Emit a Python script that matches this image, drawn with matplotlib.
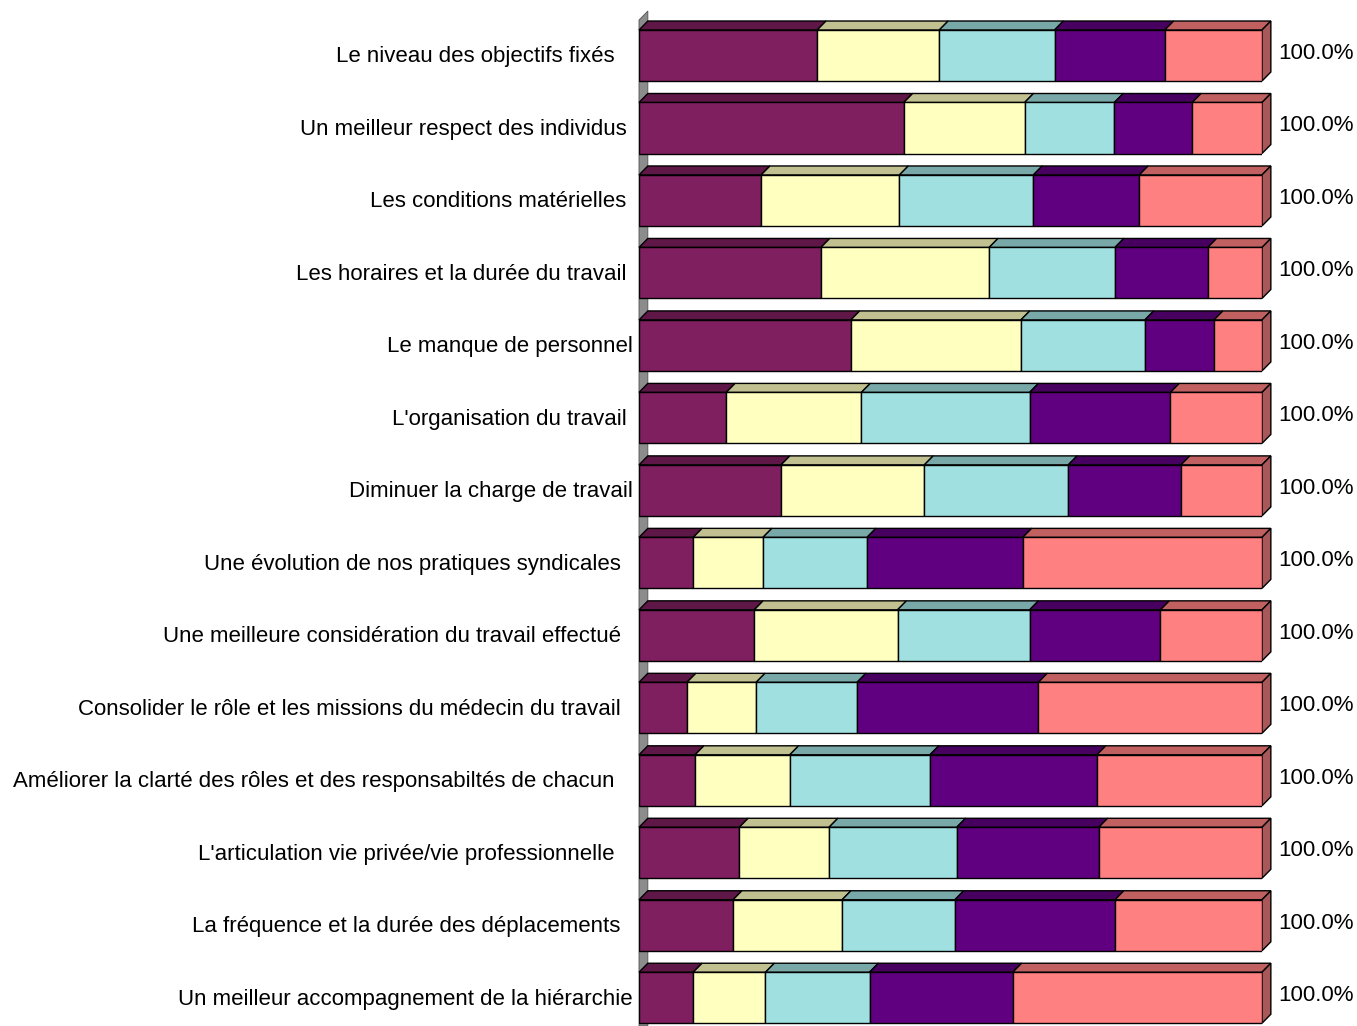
import matplotlib
matplotlib.use("Agg")
import matplotlib.pyplot as plt
from matplotlib.patches import Polygon
import numpy as np

plt.rcParams["font.family"] = ["Liberation Sans", "DejaVu Sans"]

# ---------------------- data ----------------------
categories = [
    "Le niveau des objectifs fixés   ",
    "Un meilleur respect des individus ",
    "Les conditions matérielles ",
    "Les horaires et la durée du travail ",
    "Le manque de personnel",
    "L'organisation du travail ",
    "Diminuer la charge de travail",
    "Une évolution de nos pratiques syndicales  ",
    "Une meilleure considération du travail effectué  ",
    "Consolider le rôle et les missions du médecin du travail  ",
    "Améliorer la clarté des rôles et des responsabiltés de chacun   ",
    "L'articulation vie privée/vie professionnelle   ",
    "La fréquence et la durée des déplacements  ",
    "Un meilleur accompagnement de la hiérarchie",
]

series_1 = [28.6, 42.5, 19.6, 29.2, 34.0, 14.0, 22.8, 8.7, 18.5, 7.7, 9.0, 16.1, 15.1, 8.7]
series_2 = [19.6, 19.4, 22.2, 27.0, 27.3, 21.7, 23.0, 11.2, 23.0, 11.1, 15.2, 14.4, 17.5, 11.6]
series_3 = [18.5, 14.4, 21.5, 20.2, 19.9, 27.0, 23.1, 16.7, 21.2, 16.2, 22.5, 20.5, 18.1, 16.7]
series_4 = [17.7, 12.5, 17.0, 14.9, 11.1, 22.6, 18.1, 25.0, 21.0, 29.1, 26.8, 22.8, 25.7, 23.0]
series_5 = [15.6, 11.2, 19.7, 8.7, 7.7, 14.7, 13.0, 38.4, 16.3, 35.9, 26.5, 26.2, 23.6, 40.0]

# ---------------------- style ----------------------
front_colors = ["#7F1F5F", "#FFFFC0", "#A0E0E0", "#600080", "#FF8080"]
top_colors = ["#5F1747", "#C0C090", "#78A8A8", "#480060", "#C06060"]
side_color = "#A85858"
wall_color = "#8C8C8C"

DX = 1.42      # depth offset along value axis (data units)
DY = 0.124     # depth offset along category axis (data units)
BAR_H = 0.704
Y_TOP, Y_BOTTOM = -0.628, 13.39

fig = plt.figure(figsize=(13.57, 10.26), dpi=100)
ax = fig.add_axes([639 / 1357, 0, 623 / 1357, 1016 / 1026])
ax.set_xlim(0, 100)
ax.set_ylim(Y_BOTTOM, Y_TOP)
ax.axis("off")

# left wall (seen edge-on)
wall_top = -0.49
ax.add_patch(Polygon([(0, Y_BOTTOM), (0, wall_top), (DX, wall_top - DY), (DX, Y_BOTTOM)],
                     closed=True, facecolor=wall_color, edgecolor="#505050", linewidth=0.6,
                     zorder=1, clip_on=False))

data = np.array([series_1, series_2, series_3, series_4, series_5])
y = np.arange(len(categories))
lefts = np.zeros(len(categories))

for k in range(5):
    vals = data[k]
    ax.barh(y, vals, left=lefts, height=BAR_H, color=front_colors[k],
            edgecolor="black", linewidth=1.0, zorder=3)
    for i in range(len(y)):
        x0, x1 = lefts[i], lefts[i] + vals[i]
        yt = y[i] - BAR_H / 2
        ax.add_patch(Polygon([(x0, yt), (x1, yt), (x1 + DX, yt - DY), (x0 + DX, yt - DY)],
                             closed=True, facecolor=top_colors[k], edgecolor="black",
                             linewidth=1.0, zorder=2, clip_on=False))
    lefts = lefts + vals

totals = data.sum(axis=0)
for i in range(len(y)):
    yt = y[i] - BAR_H / 2
    yb = y[i] + BAR_H / 2
    xr = totals[i]
    ax.add_patch(Polygon([(xr, yt), (xr + DX, yt - DY), (xr + DX, yb - DY), (xr, yb)],
                         closed=True, facecolor=side_color, edgecolor="black",
                         linewidth=1.0, zorder=2, clip_on=False))
    ax.text(xr + 2.6, y[i] - 0.03, f"{totals[i]:.1f}%", ha="left", va="center",
            fontsize=16, color="black", clip_on=False)
    ax.text(-1.0, y[i] + 0.02, categories[i], ha="right", va="center",
            fontsize=16, color="black", clip_on=False)

fig.savefig("out.png", dpi=100)
